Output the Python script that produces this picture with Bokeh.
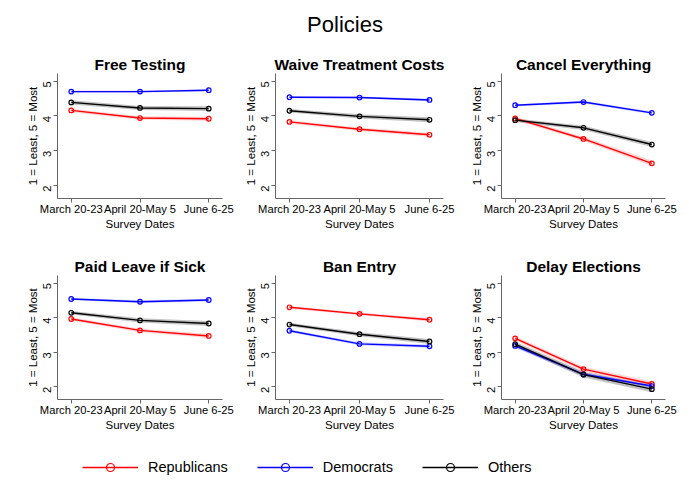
import math
from bokeh.plotting import figure
from bokeh.layouts import column, row
from bokeh.models import FixedTicker, Range1d, Legend, LegendItem, ColumnDataSource
from bokeh.embed import file_html
from bokeh.resources import INLINE

# ---------------- data ----------------
categories = ["March 20-23", "April 20-May 5", "June 6-25"]
panels = ["Free Testing", "Waive Treatment Costs", "Cancel Everything",
          "Paid Leave if Sick", "Ban Entry", "Delay Elections"]
series_names = ["Republicans", "Democrats", "Others"]
series_colors = ["#ff0000", "#0000ff", "#000000"]

republicans = [[4.16, 3.94, 3.92], [3.83, 3.62, 3.46], [3.93, 3.34, 2.64],
               [3.96, 3.63, 3.47], [4.30, 4.11, 3.94], [3.40, 2.51, 2.08]]
democrats = [[4.70, 4.70, 4.74], [4.54, 4.53, 4.46], [4.31, 4.40, 4.09],
             [4.54, 4.46, 4.51], [3.62, 3.24, 3.17], [3.18, 2.36, 2.02]]
others = [[4.39, 4.23, 4.21], [4.15, 3.99, 3.89], [3.88, 3.66, 3.18],
          [4.14, 3.92, 3.83], [3.80, 3.52, 3.31], [3.23, 2.35, 1.93]]

# confidence half-widths
rep_ci = [[0.05, 0.05, 0.06], [0.05, 0.05, 0.06], [0.05, 0.06, 0.08],
          [0.05, 0.05, 0.06], [0.04, 0.04, 0.05], [0.06, 0.07, 0.08]]
dem_ci = [[0.03, 0.03, 0.03], [0.03, 0.03, 0.04], [0.03, 0.04, 0.04],
          [0.03, 0.04, 0.04], [0.04, 0.05, 0.05], [0.06, 0.06, 0.06]]
oth_ci = [[0.06, 0.06, 0.07], [0.05, 0.06, 0.07], [0.05, 0.06, 0.07],
          [0.05, 0.06, 0.07], [0.05, 0.06, 0.07], [0.07, 0.08, 0.09]]

y_ticks = [2, 3, 4, 5]
y_label = "1 = Least, 5 = Most"
x_label = "Survey Dates"
main_title = "Policies"

FONT = "Liberation Sans"

# ---------------- layout geometry ----------------
col_left = [57, 41, 40]
col_frame_w = [165, 168, 164]
col_right = [12, 18, 24]
row_top = [31, 35]
row_frame_h = [125, 124]
row_bottom = [42, 38]

series_values = [republicans, democrats, others]
series_ci = [rep_ci, dem_ci, oth_ci]
band_alpha = [0.16, 0.16, 0.24]
MARKER = 4.6

xs = list(range(len(categories)))


def make_panel(idx):
    r, c = divmod(idx, 3)
    p = figure(frame_width=col_frame_w[c], frame_height=row_frame_h[r],
               min_border_left=col_left[c], min_border_right=col_right[c],
               min_border_top=row_top[r], min_border_bottom=row_bottom[r],
               x_range=Range1d(-0.2, 2.2), y_range=Range1d(1.63, 5.22),
               output_backend="svg", toolbar_location=None,
               title=panels[idx])
    p.title.text_font = FONT
    p.title.text_font_size = "15.5px"
    p.title.text_font_style = "bold"
    p.title.text_color = "black"
    p.title.align = "center"
    p.title.standoff = 1
    p.outline_line_color = None
    p.grid.visible = False
    p.background_fill_color = "white"
    p.border_fill_color = "white"

    for s in range(3):
        vals = series_values[s][idx]
        ci = series_ci[s][idx]
        src = ColumnDataSource(dict(
            x=xs, y=vals,
            lo=[v - e for v, e in zip(vals, ci)],
            hi=[v + e for v, e in zip(vals, ci)]))
        p.varea(x="x", y1="lo", y2="hi", source=src,
                fill_color=series_colors[s], fill_alpha=band_alpha[s])
    for s in range(3):
        src = ColumnDataSource(dict(x=xs, y=series_values[s][idx]))
        p.line("x", "y", source=src, line_color=series_colors[s], line_width=1.4)
        p.scatter("x", "y", source=src, marker="circle", size=MARKER,
                  line_color=series_colors[s], fill_alpha=0, line_width=1.2)

    for ax in (p.xaxis[0], p.yaxis[0]):
        ax.axis_line_color = "#666666"
        ax.major_tick_line_color = "#666666"
        ax.major_tick_out = 4
        ax.major_tick_in = 0
        ax.minor_tick_line_color = None
        ax.major_label_text_font = FONT
        ax.major_label_text_font_size = "11.2px"
        ax.major_label_text_color = "black"
        ax.axis_label_text_font = FONT
        ax.axis_label_text_font_size = "11.5px"
        ax.axis_label_text_font_style = "normal"
        ax.axis_label_text_color = "black"

    p.xaxis.ticker = FixedTicker(ticks=xs)
    p.xaxis.major_label_overrides = {i: lab for i, lab in enumerate(categories)}
    p.xaxis.major_label_standoff = 0
    p.xaxis.axis_label = x_label
    p.xaxis.axis_label_standoff = 0

    p.yaxis.ticker = FixedTicker(ticks=y_ticks)
    p.yaxis.major_label_orientation = math.pi / 2
    p.yaxis.major_label_standoff = 6
    p.yaxis.axis_label = y_label
    p.yaxis.axis_label_standoff = -2
    return p


figs = [make_panel(i) for i in range(6)]

# title figure
tp = figure(width=689, height=42, min_border=0, min_border_top=36,
            output_backend="svg",
            toolbar_location=None, x_axis_location=None, y_axis_location=None,
            title=main_title)
tp.title.text_font = FONT
tp.title.text_font_size = "22px"
tp.title.text_font_style = "normal"
tp.title.text_color = "black"
tp.title.align = "center"
tp.title.standoff = 0
tp.outline_line_color = None
tp.grid.visible = False

# legend figure (renderers lie outside its visible range; only the legend shows)
lp = figure(width=689, height=64, min_border=0, output_backend="svg",
            toolbar_location=None, x_axis_location=None, y_axis_location=None,
            x_range=Range1d(10, 11), y_range=Range1d(10, 11))
lp.outline_line_color = None
lp.grid.visible = False
items = []
for s in range(3):
    src = ColumnDataSource(dict(x=xs, y=series_values[s][0]))
    lr = lp.line("x", "y", source=src, line_color=series_colors[s], line_width=1.4)
    sr = lp.scatter("x", "y", source=src, marker="circle", size=MARKER,
                    line_color=series_colors[s], fill_alpha=0, line_width=1.2)
    items.append(LegendItem(label=series_names[s], renderers=[lr, sr]))
legend = Legend(items=items, orientation="horizontal", location=(82, 24),
                padding=0, margin=0, spacing=29, glyph_width=56, label_standoff=10,
                label_text_font=FONT, label_text_font_size="14.5px",
                label_text_color="black",
                border_line_color=None, background_fill_alpha=0)
lp.add_layout(legend)

layout = column(tp, row(*figs[:3]), row(*figs[3:]), lp)

open("out.html", "w").write(file_html(layout, INLINE))
